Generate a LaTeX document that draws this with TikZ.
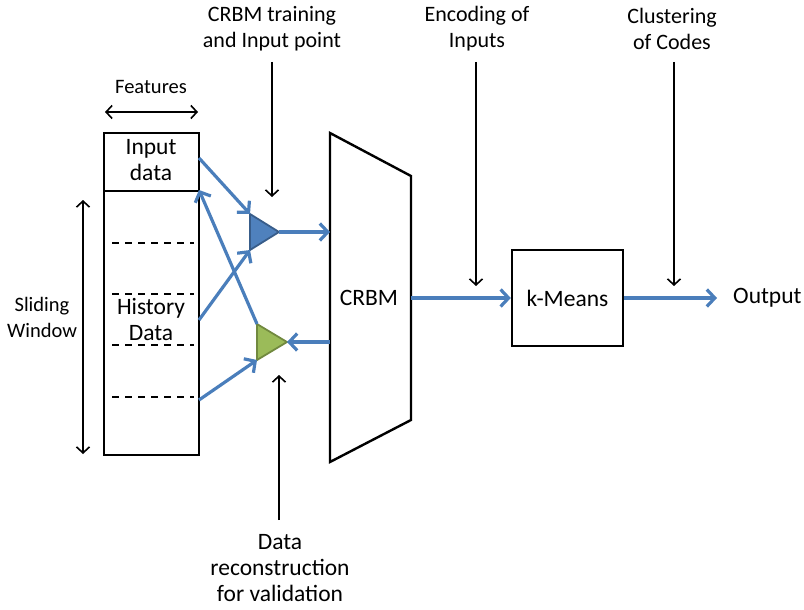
\documentclass[tikz,border=0pt]{standalone}
\usepackage{fontspec}
\setmainfont{Carlito}
\usetikzlibrary{arrows.meta,calc}
\definecolor{arrblue}{HTML}{4A7EBB}
\definecolor{triblue}{HTML}{4F81BD}
\definecolor{triblueb}{HTML}{385D8A}
\definecolor{trigreen}{HTML}{9BBB59}
\definecolor{trigreenb}{HTML}{71893F}
\tikzset{
  blk/.style={draw=black,line width=2.4pt},
  bluearr/.style={draw=arrblue,line width=3.2pt,-{Straight Barb[length=8pt,width=17pt,line width=3.2pt]}},
  blackarr/.style={draw=black,line width=1.6pt,-{Straight Barb[length=6pt,width=13pt,line width=1.6pt]}},
  dblarr/.style={draw=black,line width=1.6pt,{Straight Barb[length=6pt,width=13pt,line width=1.6pt]}-{Straight Barb[length=6pt,width=13pt,line width=1.6pt]}},
  dashline/.style={draw=black,line width=1.5pt,dash pattern=on 7pt off 6pt},
  lbl/.style={font=\fontsize{22}{26}\selectfont,align=center,inner sep=0pt},
  txt/.style={font=\fontsize{23.5}{26}\selectfont,align=center,inner sep=0pt},
  small/.style={font=\fontsize{20.5}{26}\selectfont,align=center,inner sep=0pt},
}
\begin{document}
\begin{tikzpicture}[x=1pt,y=-1pt]
\useasboundingbox (0,0) rectangle (804,610);
% data column
\draw[blk] (104,133) rectangle (199,455);
\draw[blk] (104,191) -- (199,191);
\foreach \yy in {243,294,345,397} \draw[dashline] (112,\yy) -- (194,\yy);
\node[txt] (inp) at (151,160) {Input\\data};
\node[txt] (hist) at (151,320) {History\\Data};
\node[small] (feat) at (151,87) {Features};
\coordinate (fl) at (105,112); \coordinate (fr) at (198,112);
\draw[dblarr] (fl) -- (fr);
\node[small] (slide) at (42,317) {Sliding\\Window};
\coordinate (st) at (83,200); \coordinate (sb) at (83,454);
\draw[dblarr] (st) -- (sb);
% triangles
\draw[fill=triblue,draw=triblueb,line width=1.8pt] (250,214) coordinate (bt) -- (279,232) coordinate (ba) -- (250,250) coordinate (bb) -- cycle;
\draw[fill=trigreen,draw=trigreenb,line width=1.8pt] (257,324) coordinate (gt) -- (287,342) coordinate (ga) -- (257,360) coordinate (gb) -- cycle;
% CRBM
\draw[blk] (330,133) coordinate (c1) -- (411,176) coordinate (c2) -- (411,420) coordinate (c3) -- (330,462) coordinate (c4) -- cycle;
\node[txt] (crbm) at (369,298) {CRBM};
\coordinate (cl1) at (330,232); \coordinate (cl2) at (330,342); \coordinate (cr) at (411,298);
% k-means
\node[txt,draw=black,line width=2.4pt,minimum width=111pt,minimum height=96pt] (km) at (567.5,298) {k-Means};
\node[txt,anchor=west] (out) at (733,298) {Output};
% blue connectors
\coordinate (i1) at (199,158); \coordinate (i2) at (199,190);
\coordinate (h1) at (199,320); \coordinate (h2) at (199,400);
\draw[bluearr] (i1) -- (bt);
\draw[bluearr] (h1) -- (bb);
\draw[bluearr] (gt) -- (i2);
\draw[bluearr] (h2) -- (gb);
\draw[bluearr] (ba) -- (cl1);
\draw[bluearr] (cl2) -- (ga);
\draw[bluearr] (cr) -- (km.west);
\draw[bluearr] (km.east) -- ($(out.west)+(-16,0)$);
% labels with black arrows
\node[lbl] (l1) at (272,29) {CRBM training\\and Input point};
\node[lbl] (l2) at (477,29) {Encoding of\\Inputs};
\node[lbl] (l3) at (672,29) {Clustering\\of Codes};
\node[txt] (l4) at (280,568) {Data\\reconstruction\\for validation};
\coordinate (a1) at (272,197); \coordinate (a2) at (476,286); \coordinate (a3) at (674,286); \coordinate (a4) at (279,375);
\draw[blackarr] (272,62) -- (a1);
\draw[blackarr] (476,62) -- (a2);
\draw[blackarr] (674,62) -- (a3);
\draw[blackarr] (279,520) -- (a4);
\end{tikzpicture}
\end{document}
